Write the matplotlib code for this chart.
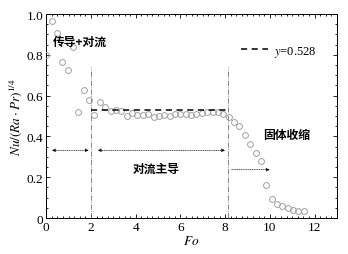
import matplotlib
matplotlib.use('Agg')
import matplotlib.pyplot as plt
from matplotlib.ticker import MultipleLocator

plt.rcParams['font.family'] = ['Liberation Serif', 'Noto Sans CJK SC']
plt.rcParams['mathtext.fontset'] = 'stix'

# data
fo = [0.00, 0.24, 0.47, 0.71, 0.95, 1.19, 1.43, 1.67, 1.91, 2.15,
      2.40, 2.64, 2.88, 3.12, 3.36, 3.60, 3.84, 4.08, 4.32, 4.56,
      4.80, 5.04, 5.28, 5.52, 5.76, 6.00, 6.24, 6.48, 6.72, 6.96,
      7.20, 7.44, 7.68, 7.92, 8.16, 8.40, 8.64, 8.88, 9.12, 9.36,
      9.60, 9.84, 10.08, 10.32, 10.56, 10.80, 11.04, 11.28, 11.52]
nu = [0.800, 0.964, 0.907, 0.763, 0.725, 0.837, 0.518, 0.627, 0.578, 0.506,
      0.567, 0.546, 0.523, 0.529, 0.523, 0.501, 0.513, 0.506, 0.505, 0.510,
      0.494, 0.501, 0.505, 0.501, 0.512, 0.508, 0.512, 0.506, 0.512, 0.515,
      0.518, 0.521, 0.518, 0.512, 0.494, 0.469, 0.450, 0.408, 0.362, 0.319,
      0.279, 0.161, 0.093, 0.068, 0.057, 0.048, 0.040, 0.034, 0.033]

fit_value = 0.528
fit_range = [2.0, 8.1]
stage_bounds = [2.0, 8.15]
stage_names = ['传导+对流', '对流主导', '固体收缩']

fig = plt.figure(figsize=(3.48, 2.55), dpi=100)
ax = fig.add_axes([0.133, 0.141, 0.835, 0.80])

ax.plot(fo, nu, 'o', mfc='none', mec='#a0a0a0', ms=4.2, mew=0.7, zorder=3)
ax.plot(fit_range, [fit_value, fit_value], color='black', lw=1.1,
        dashes=(4, 3), label=r'$y$=0.528', zorder=4)

for xb in stage_bounds:
    ax.plot([xb, xb], [0, 0.74], color='#707070', lw=0.6, ls='-.', zorder=2)

arrow = dict(arrowstyle='<|-|>', color='black', lw=0.5, ls=':',
             mutation_scale=5, shrinkA=0, shrinkB=0)
ax.annotate('', xy=(0.25, 0.332), xytext=(1.9, 0.332), arrowprops=arrow)
ax.annotate('', xy=(2.3, 0.332), xytext=(8.0, 0.332), arrowprops=arrow)
ax.annotate('', xy=(10.0, 0.237), xytext=(8.3, 0.237),
            arrowprops=dict(arrowstyle='-|>', color='black', lw=0.5, ls=':',
                            mutation_scale=5, shrinkA=0, shrinkB=0))

cjk = ['Noto Sans CJK SC']
ax.text(0.3, 0.865, stage_names[0], family=cjk, fontsize=8.5,
        fontweight='semibold', ha='left', va='center')
ax.text(4.9, 0.245, stage_names[1], family=cjk, fontsize=8.5,
        fontweight='semibold', ha='center', va='center')
ax.text(10.75, 0.41, stage_names[2], family=cjk, fontsize=8.5,
        fontweight='semibold', ha='center', va='center')

ax.set_xlim(0, 13)
ax.set_ylim(0, 1.0)
ax.xaxis.set_major_locator(MultipleLocator(2))
ax.xaxis.set_minor_locator(MultipleLocator(0.25))
ax.yaxis.set_major_locator(MultipleLocator(0.2))
ax.yaxis.set_minor_locator(MultipleLocator(0.05))
ax.set_yticks([0, 0.2, 0.4, 0.6, 0.8, 1.0])
ax.set_yticklabels(['0', '0.2', '0.4', '0.6', '0.8', '1.0'])
ax.tick_params(which='both', direction='in', top=True, right=True,
               labelsize=9.5, width=0.6, pad=2)
ax.tick_params(which='major', length=3)
ax.tick_params(which='minor', length=1.5)
for s in ax.spines.values():
    s.set_linewidth(0.7)

ax.set_xlabel(r'$Fo$', fontsize=9.5, labelpad=1)
ax.set_ylabel(r'$Nu/(Ra\cdot Pr)^{1/4}$', fontsize=9.5, labelpad=2)

ax.legend(loc='upper right', bbox_to_anchor=(0.97, 0.91), frameon=False,
          fontsize=9, handlelength=2.2, handletextpad=0.5)

fig.savefig('out.png', dpi=100)
